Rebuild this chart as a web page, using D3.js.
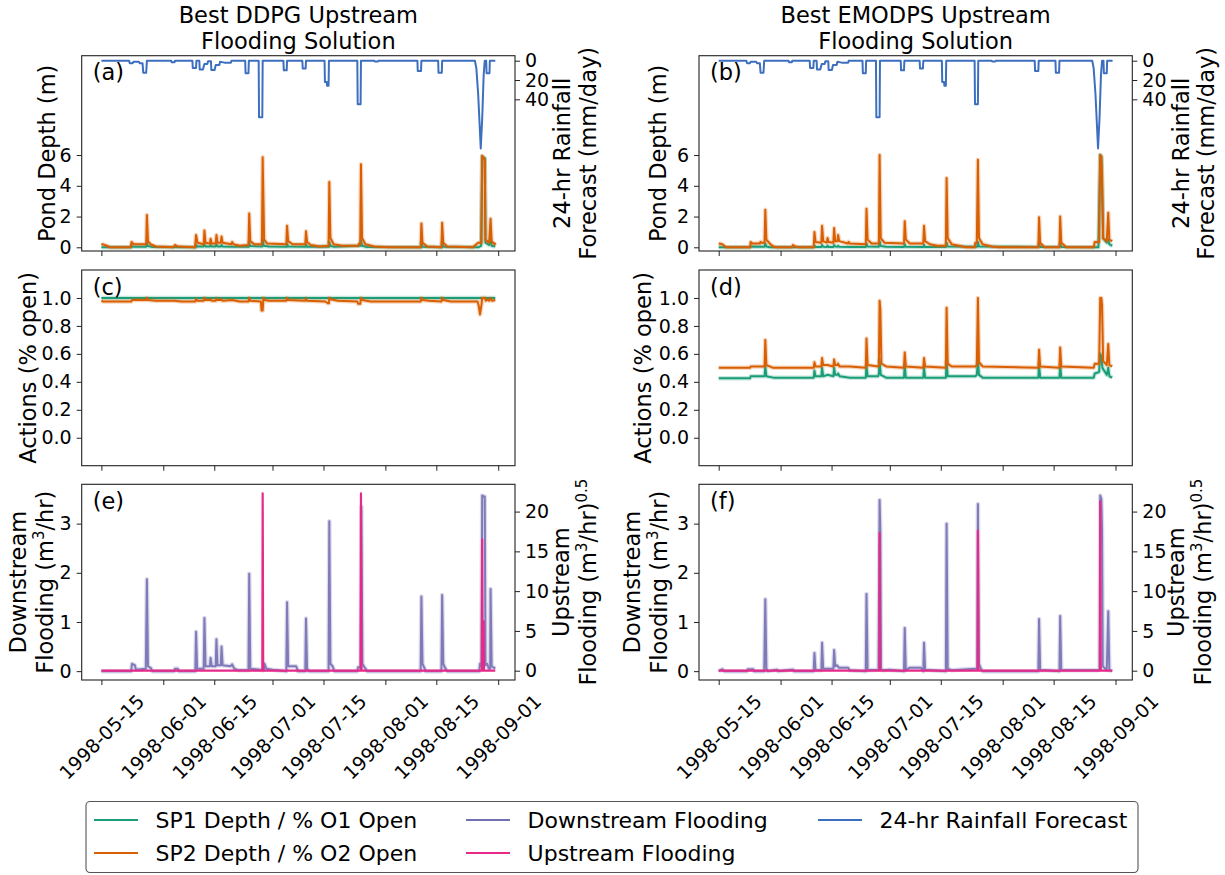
<!DOCTYPE html>
<html>
<head>
<script src="https://cdnjs.cloudflare.com/ajax/libs/d3/7.8.5/d3.min.js"></script>
<style>
  html, body { margin: 0; background: #fff; }
  text { font-family: "DejaVu Sans", sans-serif; }
</style>
</head>
<body>
<script>
// days counted from 1998-05-15 00:00 (UTC)
var startDate = "1998-05-15";
var xTickDates = ["1998-05-15","1998-06-01","1998-06-15","1998-07-01","1998-07-15","1998-08-01","1998-08-15","1998-09-01"];
var depthTicks = [0, 2, 4, 6];
var rainTicks = [0, 20, 40];
var actionTicks = [0, 0.2, 0.4, 0.6, 0.8, 1.0];
var downTicks = [0, 1, 2, 3];
var upTicks = [0, 5, 10, 15, 20];

// 24-hr rainfall forecast (mm/day), same in both columns
var rainForecast = [[0,0],[7.6,0],[7.8,2.5],[8.6,2.5],[8.8,1],[10.3,1],[10.5,2.5],[11.3,2.5],[11.5,12.5],[12.3,12.5],[12.5,0],
  [19.2,0],[19.3,1.5],[20.1,1.5],[20.2,0],[25,0],[25.1,7.5],[26,7.5],[26.1,0],[26.9,0],[27,9],[27.9,9],[28.3,3.5],[29.1,3.5],
  [29.3,0.5],[30.1,0.5],[30.2,9.7],[31.1,9.7],[31.4,4.5],[32.4,4.5],[32.6,1],[33.8,2],[35.6,2],[35.7,0],
  [39.5,0],[39.6,13],[40.4,13],[40.5,0],[43.2,0],[43.3,58.7],[44.2,58.7],[44.3,0],[50,0],[50.1,10],[50.9,10],[51,0],
  [55.2,0],[55.3,8],[56.1,8],[56.2,0],[61.3,0],[61.4,22],[61.9,22],[62,26],[62.4,26],[62.5,0],[70.3,0],[70.4,45],[71.2,45],[71.3,0],
  [75,0],[75.1,0.7],[76,0.7],[76.1,0],[86.8,0],[86.9,10.7],[87.8,10.7],[87.9,0],[92.5,0],[92.6,12.4],[93.5,12.4],[93.6,0],
  [102.6,0],[103,8],[103.5,35],[104.2,91],[104.6,60],[105,15],[105.3,0],[105.7,0],[105.8,13],[106.6,13],[106.7,0],[108.2,0]];

// pond depth (m)
var ddpgSP1Depth = [[0,0],[8.3,0],[8.4,0.08],[9,0.03],[12.3,0.03],[12.5,0.3],[12.8,0.08],[14,0.02],[25.9,0],[26,0.15],[26.4,0.05],
  [28.1,0.05],[28.3,0.2],[28.6,0.06],[29.8,0.05],[30,0.15],[30.3,0.05],[31.4,0.05],[31.6,0.2],[31.9,0.06],[32.8,0.05],[33,0.15],[33.3,0.05],
  [36,0.03],[40.5,0.03],[40.6,0.3],[40.9,0.08],[44.2,0.05],[44.3,0.5],[44.6,0.1],[46,0.05],[50.9,0.03],[51,0.25],[51.3,0.05],
  [56.1,0.03],[56.2,0.2],[56.5,0.04],[62.5,0.03],[62.6,0.35],[62.9,0.08],[64,0.03],[71.1,0.1],[71.3,0.45],[71.6,0.1],[73,0.02],
  [87.8,0],[87.9,0.3],[88.2,0.03],[93.5,0],[93.6,0.3],[93.9,0.03],[103.5,0],[104.3,0.1],[104.6,5.9],[105.3,5.8],[105.5,0.3],
  [106.5,0.15],[106.9,0.5],[107.2,0.1],[108.2,0.05]];
var ddpgSP2Depth = [[0,0.22],[1.5,0.1],[2.5,0],[8,0],[8.3,0.35],[8.8,0.2],[12.3,0.2],[12.5,2.1],[12.8,0.4],[13.5,0.2],[15,0.05],[19.8,0],
  [20.2,0.15],[21,0.05],[25.7,0],[26,0.8],[26.4,0.3],[28.1,0.2],[28.3,1.1],[28.6,0.3],[29.8,0.25],[30,0.55],[30.3,0.25],[31.4,0.25],
  [31.6,0.8],[31.9,0.3],[32.8,0.3],[33,0.7],[33.3,0.3],[35.7,0.2],[35.9,0.35],[36.3,0.2],[38,0.1],[40.4,0.15],[40.6,2.2],[40.9,0.4],
  [42,0.2],[44.1,0.2],[44.3,5.85],[44.7,0.5],[45.5,0.25],[50.8,0.2],[51,1.4],[51.3,0.4],[52.5,0.2],[56,0.2],[56.2,1.05],[56.5,0.35],
  [57.5,0.15],[60,0.05],[62.4,0.1],[62.6,4.25],[62.9,0.6],[63.8,0.2],[66,0.1],[70.5,0.1],[70.8,0.25],[71.1,0.2],[71.3,5.4],[71.6,0.6],
  [72.5,0.2],[75,0.05],[79,0],[87.7,0],[87.9,1.55],[88.2,0.3],[89.5,0.05],[93.4,0],[93.6,1.6],[93.9,0.3],[95,0.05],[102,0],[103.5,0.3],
  [104.4,0.3],[104.6,5.95],[105,5.8],[105.3,5.7],[105.5,0.5],[106.5,0.3],[106.9,1.85],[107.2,0.4],[108,0.2],[108.2,0.3]];
var emodpsSP1Depth = [[0,0],[8.6,0],[8.8,0.05],[12.6,0.03],[12.8,0.25],[13.1,0.05],[14,0],[26.1,0],[26.3,0.1],[26.6,0.02],[28.2,0.02],
  [28.4,0.15],[28.7,0.03],[29.7,0.02],[29.9,0.1],[30.2,0.02],[31.5,0.02],[31.7,0.15],[32,0.05],[32.6,0.04],[32.8,0.1],[33.1,0.03],
  [36,0.02],[40.4,0.02],[40.6,0.25],[40.9,0.05],[44,0.04],[44.2,0.4],[44.5,0.08],[46,0.03],[50.9,0.02],[51.1,0.2],[51.4,0.03],
  [56.2,0.02],[56.4,0.15],[56.7,0.02],[62.4,0.02],[62.6,0.3],[62.9,0.05],[71,0.04],[71.2,0.35],[71.5,0.05],[87.8,0.02],[88,0.25],
  [88.3,0.02],[93.6,0.02],[93.8,0.25],[94.1,0.02],[104.3,0],[104.8,6],[105.1,5.9],[105.3,4],[105.6,0.6],[106.6,0.3],[107,0.5],
  [107.3,0.2],[108.1,0.1]];
var emodpsSP2Depth = [[0,0.25],[1,0.2],[2,0],[8.6,0],[8.8,0.35],[9.2,0.25],[11.3,0.25],[11.5,0.35],[11.8,0.3],[12.6,0.3],[12.8,2.45],
  [13.1,0.5],[14,0.25],[15,0.05],[16,0],[20.2,0],[20.4,0.15],[21,0.05],[22,0],[26.1,0],[26.3,1],[26.6,0.35],[28.2,0.3],[28.4,1.4],
  [28.7,0.4],[29.7,0.3],[29.9,0.6],[30.2,0.35],[31.5,0.3],[31.7,1.25],[32,0.4],[32.6,0.4],[32.8,0.8],[33.1,0.4],[35.5,0.25],[35.7,0.35],
  [36,0.25],[40.4,0.2],[40.6,2.5],[40.9,0.5],[42,0.25],[44,0.25],[44.2,6],[44.5,0.6],[45.5,0.3],[50.9,0.25],[51.1,1.7],[51.4,0.5],
  [52.5,0.25],[56.2,0.25],[56.4,1.4],[56.7,0.4],[58,0.2],[60,0.1],[62.4,0.1],[62.6,4.5],[62.9,0.6],[64,0.2],[66,0.1],[68,0],[70.3,0],
  [70.5,0.3],[70.9,0.3],[71.2,5.7],[71.5,0.6],[72.5,0.2],[75,0.05],[77,0],[87.8,0],[88,1.95],[88.3,0.3],[89.5,0],[93.6,0],[93.8,2],
  [94.1,0.3],[95.5,0],[103,0],[103.3,0.35],[104.5,0.35],[104.8,6],[105.1,5.9],[105.3,4.7],[105.6,0.6],[106.6,0.4],[107,2.25],
  [107.3,0.5],[108.1,0.4]];

// actions (fraction open)
var ddpgO1Open = [[0,1],[108.2,1]];
var ddpgO2Open = [[0,0.98],[0.5,0.975],[8.2,0.975],[8.4,0.985],[12.3,0.985],[12.5,1],[12.8,0.985],[15,0.98],[20,0.98],[22,0.975],
  [25.8,0.975],[26,0.99],[26.4,0.98],[28.1,0.98],[28.3,1],[28.6,0.985],[29.8,0.985],[30,0.99],[30.3,0.98],[31.4,0.98],[31.6,0.995],
  [31.9,0.985],[32.8,0.985],[33,0.99],[33.3,0.98],[35.9,0.985],[38,0.975],[40.4,0.975],[40.6,1],[40.9,0.98],[43.8,0.975],[44,0.91],
  [44.3,0.91],[44.5,1],[44.8,0.985],[46,0.98],[50.8,0.98],[51,1],[51.3,0.985],[56,0.98],[56.2,0.995],[56.5,0.98],[61.5,0.975],
  [62.2,0.962],[62.5,0.962],[62.6,1],[62.9,0.99],[65,0.98],[70.3,0.975],[70.5,0.958],[71.1,0.958],[71.3,1],[71.6,0.985],[74,0.975],
  [87.7,0.975],[87.9,1],[88.2,0.985],[90,0.98],[93.4,0.975],[93.6,1],[93.9,0.985],[96,0.975],[103.3,0.975],[103.6,0.95],[104,0.882],
  [104.4,0.95],[104.6,1],[105.3,1],[105.6,0.98],[106,0.99],[106.5,0.98],[106.9,0.995],[107.3,0.98],[108.2,0.985]];
var emodpsO1Open = [[0,0.425],[8.6,0.425],[8.8,0.44],[12.6,0.44],[12.8,0.51],[13.1,0.44],[15,0.43],[26.1,0.43],[26.3,0.48],[26.6,0.44],
  [28.2,0.44],[28.4,0.5],[28.7,0.44],[29.9,0.45],[31.5,0.44],[31.7,0.5],[32,0.45],[32.6,0.45],[32.8,0.46],[33.2,0.44],[36,0.43],
  [40.4,0.43],[40.6,0.52],[40.9,0.44],[43.8,0.44],[44,0.46],[44.2,0.56],[44.5,0.45],[46,0.43],[50.9,0.43],[51.1,0.52],[51.4,0.43],
  [56.2,0.43],[56.4,0.5],[56.7,0.43],[62.4,0.43],[62.6,0.55],[62.9,0.44],[70.5,0.44],[70.9,0.45],[71.2,0.55],[71.5,0.45],[72.5,0.43],
  [87.8,0.43],[88,0.52],[88.3,0.43],[93.6,0.43],[93.8,0.52],[94.1,0.43],[103,0.43],[103.3,0.46],[104.5,0.47],[104.8,0.6],[105.1,0.58],
  [105.4,0.5],[106.6,0.45],[107,0.5],[107.3,0.44],[108.1,0.43]];
var emodpsO2Open = [[0,0.5],[8.6,0.5],[8.8,0.51],[12.6,0.51],[12.8,0.7],[13.1,0.52],[15,0.5],[26.1,0.5],[26.3,0.54],[26.6,0.51],
  [28.2,0.51],[28.4,0.57],[28.7,0.52],[29.9,0.52],[31.5,0.51],[31.7,0.56],[32,0.52],[32.6,0.52],[32.8,0.53],[33.2,0.51],[36,0.51],
  [40.4,0.5],[40.6,0.71],[40.9,0.52],[43.8,0.51],[44,0.52],[44.2,0.98],[44.4,0.92],[44.7,0.53],[46,0.51],[50.9,0.5],[51.1,0.61],
  [51.4,0.51],[56.2,0.5],[56.4,0.57],[56.7,0.51],[62.4,0.5],[62.6,0.93],[62.9,0.53],[64,0.51],[70.5,0.51],[70.9,0.52],[71.2,1],
  [71.5,0.54],[72.5,0.51],[87.8,0.5],[88,0.63],[88.3,0.51],[93.6,0.5],[93.8,0.645],[94.1,0.51],[103,0.5],[103.3,0.53],[104.5,0.53],
  [104.8,1],[105.1,1],[105.3,0.95],[105.6,0.55],[106.6,0.52],[107,0.67],[107.3,0.52],[108.1,0.51]];

// flooding: downstream (m3/hr), upstream ((m3/hr)^0.5)
var ddpgDownstream = [[0,0],[8.2,0],[8.4,0.15],[9.2,0.12],[9.5,0.03],[12.2,0.05],[12.5,1.87],[12.8,0.1],[13.6,0.06],[14,0],[20,0],
  [20.2,0.05],[21,0.05],[21.2,0],[25.8,0],[26,0.8],[26.3,0.05],[28.1,0.05],[28.3,1.08],[28.6,0.1],[29.8,0.1],[30,0.27],[30.3,0.1],
  [31.4,0.1],[31.6,0.65],[31.9,0.12],[32.8,0.12],[33,0.5],[33.3,0.12],[35.5,0.1],[35.9,0.14],[36.5,0.05],[37.5,0.02],[40.4,0.02],
  [40.6,1.98],[40.9,0.05],[44.6,0.02],[44.8,0.15],[45.3,0.05],[47,0.03],[50.8,0],[51,1.4],[51.3,0.1],[53.5,0.1],[54,0],[56,0],
  [56.2,1.07],[56.5,0.05],[57,0],[62.4,0],[62.6,3.05],[62.9,0.15],[63.5,0.1],[64,0],[70.3,0],[70.5,0.08],[71.2,0.08],[71.4,3.35],
  [71.7,0.15],[72.5,0.05],[73,0],[87.7,0],[87.9,1.52],[88.2,0.15],[88.8,0.05],[89,0],[93.4,0],[93.6,1.55],[93.9,0.15],[94.5,0.05],
  [95,0],[103.8,0],[104,0.15],[104.4,0.1],[104.6,3.57],[105.3,3.55],[105.5,0.12],[106,0.15],[106.4,0.05],[106.8,0.05],[106.9,1.67],
  [107.2,0.1],[108.2,0.05]];
var ddpgUpstream = [[0,0],[44.2,0],[44.3,22.3],[44.45,0],[71.2,0],[71.3,22.3],[71.45,0],[104.5,0],[104.6,16.5],[104.72,0],[104.9,0],
  [105,6.2],[105.1,0],[108.2,0]];
var emodpsDownstream = [[0,0],[1,0.04],[1.5,0],[7.8,0],[8,0.04],[9.5,0.04],[9.7,0],[12.5,0],[12.8,1.46],[13.1,0.05],[13.5,0],[16,0.03],
  [16.3,0],[20,0.03],[20.5,0.03],[20.7,0],[26.1,0],[26.3,0.37],[26.6,0.02],[28.2,0.02],[28.4,0.58],[28.7,0.05],[29.9,0.05],[31.5,0.05],
  [31.7,0.43],[32,0.1],[32.5,0.12],[33,0.07],[35.5,0.07],[36,0.02],[40.4,0],[40.6,1.57],[40.9,0.02],[43.9,0.03],[44.2,3.48],[44.4,2.85],
  [44.6,0.05],[45,0.02],[47,0.03],[50.9,0],[51.1,0.88],[51.4,0.02],[52.5,0.07],[55.5,0.07],[56.2,0],[56.4,0.58],[56.7,0.03],[62.4,0],
  [62.6,3],[62.9,0.05],[64,0.02],[70.5,0.05],[71,0.05],[71.2,3.4],[71.5,0.15],[72,0.05],[72.5,0],[87.8,0],[88,1.06],[88.3,0.02],
  [90,0.02],[93.6,0],[93.8,1.12],[94.1,0.02],[95,0.02],[104.3,0.02],[104.6,0.04],[104.8,3.57],[105.1,3.5],[105.3,2.9],[105.5,0.1],
  [106.6,0.02],[107,1.22],[107.3,0.02],[108.1,0]];
var emodpsUpstream = [[0,0],[44.15,0],[44.2,17.3],[44.35,0],[71.15,0],[71.2,17.6],[71.35,0],[104.75,0],[104.8,21.3],[104.95,0],[108.1,0]];

var colSP1 = "#1b9e77", colSP2 = "#d95f02", colDown = "#7570b3", colUp = "#e7298a", colRain = "#3d6fc0";

var svg = d3.select("body").append("svg").attr("width", 1225).attr("height", 875);

var t0 = d3.utcParse("%Y-%m-%d")(startDate).getTime();
function toDate(t) { return new Date(t0 + t * 864e5); }
var parseDay = d3.utcParse("%Y-%m-%d");

var cols = [{x0: 81.7, x1: 515, title: "Best DDPG Upstream"}, {x0: 699, x1: 1132.3, title: "Best EMODPS Upstream"}];
var rows = [{y0: 55.7, y1: 251}, {y0: 270, y1: 465.7}, {y0: 484.3, y1: 680}];
var clipId = 0;

function vLabel(xc, yc, parts) {
    var t = svg.append("text")
        .attr("transform", "translate(" + xc + "," + yc + ") rotate(-90)")
        .attr("text-anchor", "middle").attr("dy", "0.36em")
        .style("font-size", "22.5px").attr("fill", "#000");
    parts.forEach(function(p) {
        if (p[1] === "sup") {
            t.append("tspan").attr("dy", -9).style("font-size", "15px").text(p[0]);
        } else if (p[1] === "down") {
            t.append("tspan").attr("dy", 9).text(p[0]);
        } else {
            t.append("tspan").text(p[0]);
        }
    });
}

function makePanel(c, r, letter, leftDomain, leftTicks, leftFmt, series, right, showDates) {
    var col = cols[c], row = rows[r];
    var x = d3.scaleUtc().domain([toDate(-5.41), toDate(113.61)]).range([col.x0, col.x1]);
    var y = d3.scaleLinear().domain(leftDomain).range([row.y1, row.y0]);
    var g = svg.append("g");
    var id = "clip" + (clipId++);
    g.append("clipPath").attr("id", id).append("rect")
        .attr("x", col.x0).attr("y", row.y0).attr("width", col.x1 - col.x0).attr("height", row.y1 - row.y0);
    var plot = g.append("g").attr("clip-path", "url(#" + id + ")");

    var yr = null;
    if (right) {
        yr = d3.scaleLinear().domain(right.domain).range(right.invert ? [row.y0, row.y1] : [row.y1, row.y0]);
    }
    series.forEach(function(s) {
        var ys = s.right ? yr : y;
        var line = d3.line().x(function(d) { return x(toDate(d[0])); }).y(function(d) { return ys(d[1]); });
        if (s.halo) {
            plot.append("path").datum(s.data).attr("d", line).attr("fill", "none")
                .attr("stroke", s.color).attr("stroke-opacity", 0.25).attr("stroke-width", 4.5)
                .attr("stroke-linejoin", "round");
        }
        plot.append("path").datum(s.data).attr("d", line).attr("fill", "none")
            .attr("stroke", s.color).attr("stroke-width", s.width || 2).attr("stroke-opacity", s.opacity || 1)
            .attr("stroke-linejoin", "round");
    });

    // left axis
    var ax = g.append("g").attr("transform", "translate(" + col.x0 + ",0)")
        .call(d3.axisLeft(y).tickValues(leftTicks).tickFormat(leftFmt).tickSize(5).tickPadding(5));
    if (right) {
        g.append("g").attr("transform", "translate(" + col.x1 + ",0)")
            .call(d3.axisRight(yr).tickValues(right.ticks).tickFormat(d3.format("d")).tickSize(5).tickPadding(5));
    }
    var bx = g.append("g").attr("transform", "translate(0," + row.y1 + ")")
        .call(d3.axisBottom(x).tickValues(xTickDates.map(parseDay)).tickSize(5)
            .tickFormat(showDates ? d3.utcFormat("%Y-%m-%d") : ""));
    g.selectAll(".domain").remove();
    g.selectAll(".tick line").attr("stroke", "#222").attr("stroke-width", 1);
    g.selectAll(".tick text").style("font-size", "19px").style("font-family", "DejaVu Sans").attr("fill", "#000");
    if (showDates) {
        bx.selectAll(".tick text")
            .attr("y", 0).attr("dy", "0.35em").attr("text-anchor", "middle")
            .attr("transform", "translate(0,57) rotate(-45)");
    }
    g.append("rect").attr("x", col.x0).attr("y", row.y0)
        .attr("width", col.x1 - col.x0).attr("height", row.y1 - row.y0)
        .attr("fill", "none").attr("stroke", "#222").attr("stroke-width", 1.1);
    g.append("text").attr("x", col.x0 + 11).attr("y", row.y0 + 24.5)
        .style("font-size", "22.5px").attr("fill", "#000").text("(" + letter + ")");
}

var fmtInt = d3.format("d"), fmt1 = d3.format(".1f");

// row 1: pond depth + rainfall
makePanel(0, 0, "a", [-0.24, 12.46], depthTicks, fmtInt,
    [{data: rainForecast, color: colRain, right: true},
     {data: ddpgSP1Depth, color: colSP1, halo: true},
     {data: ddpgSP2Depth, color: colSP2, halo: true}],
    {domain: [-5.2, 197.2], ticks: rainTicks, invert: true}, false);
makePanel(1, 0, "b", [-0.24, 12.46], depthTicks, fmtInt,
    [{data: rainForecast, color: colRain, right: true},
     {data: emodpsSP1Depth, color: colSP1, halo: true},
     {data: emodpsSP2Depth, color: colSP2, halo: true}],
    {domain: [-5.2, 197.2], ticks: rainTicks, invert: true}, false);
// row 2: actions
makePanel(0, 1, "c", [-0.2, 1.2], actionTicks, fmt1,
    [{data: ddpgO1Open, color: colSP1, halo: true},
     {data: ddpgO2Open, color: colSP2, halo: true}], null, false);
makePanel(1, 1, "d", [-0.2, 1.2], actionTicks, fmt1,
    [{data: emodpsO1Open, color: colSP1, halo: true},
     {data: emodpsO2Open, color: colSP2, halo: true}], null, false);
// row 3: flooding
makePanel(0, 2, "e", [-0.18, 3.8], downTicks, fmtInt,
    [{data: ddpgDownstream, color: colDown, halo: true, opacity: 0.9},
     {data: ddpgUpstream, color: colUp, right: true, width: 2.2}],
    {domain: [-1.17, 23.43], ticks: upTicks, invert: false}, true);
makePanel(1, 2, "f", [-0.18, 3.8], downTicks, fmtInt,
    [{data: emodpsDownstream, color: colDown, halo: true, opacity: 0.9},
     {data: emodpsUpstream, color: colUp, right: true, width: 2.2}],
    {domain: [-1.17, 23.43], ticks: upTicks, invert: false}, true);

// column titles
cols.forEach(function(col) {
    var cx = (col.x0 + col.x1) / 2;
    var t = svg.append("text").attr("text-anchor", "middle").style("font-size", "22.5px").attr("fill", "#000");
    t.append("tspan").attr("x", cx).attr("y", 23).text(col.title);
    t.append("tspan").attr("x", cx).attr("y", 48.5).text("Flooding Solution");
});

// axis labels
var rc = function(r) { return (rows[r].y0 + rows[r].y1) / 2; };
vLabel(47, rc(0), [["Pond Depth (m)"]]);
vLabel(658, rc(0), [["Pond Depth (m)"]]);
vLabel(562, rc(0), [["24-hr Rainfall"]]);
vLabel(588, rc(0), [["Forecast (mm/day)"]]);
vLabel(1181, rc(0), [["24-hr Rainfall"]]);
vLabel(1206, rc(0), [["Forecast (mm/day)"]]);
vLabel(28, rc(1), [["Actions (% open)"]]);
vLabel(643, rc(1), [["Actions (% open)"]]);
[[18, 45, 561, 588], [632, 659, 1176, 1203]].forEach(function(p) {
    vLabel(p[0], rc(2), [["Downstream"]]);
    vLabel(p[1], rc(2), [["Flooding (m"], ["3", "sup"], ["/hr)", "down"]]);
    vLabel(p[2], rc(2), [["Upstream"]]);
    vLabel(p[3], rc(2), [["Flooding (m"], ["3", "sup"], ["/hr)", "down"], ["0.5", "sup"]]);
});

// legend
var legendItems = [
    {label: "SP1 Depth / % O1 Open", color: colSP1, lx: 94, ly: 820},
    {label: "SP2 Depth / % O2 Open", color: colSP2, lx: 94, ly: 853},
    {label: "Downstream Flooding", color: colDown, lx: 466, ly: 820},
    {label: "Upstream Flooding", color: colUp, lx: 466, ly: 853},
    {label: "24-hr Rainfall Forecast", color: colRain, lx: 818, ly: 820}
];
svg.append("rect").attr("x", 86).attr("y", 801.5).attr("width", 1052).attr("height", 71)
    .attr("rx", 4).attr("fill", "#fff").attr("stroke", "#555").attr("stroke-width", 1.1);
var lg = svg.selectAll(".leg").data(legendItems).enter().append("g").attr("class", "leg");
lg.append("line").attr("x1", function(d) { return d.lx; }).attr("x2", function(d) { return d.lx + 44; })
    .attr("y1", function(d) { return d.ly; }).attr("y2", function(d) { return d.ly; })
    .attr("stroke", function(d) { return d.color; }).attr("stroke-width", 2);
lg.append("text").attr("x", function(d) { return d.lx + 61.6; }).attr("y", function(d) { return d.ly; })
    .attr("dy", "0.36em").style("font-size", "22px").attr("fill", "#000")
    .text(function(d) { return d.label; });
</script>
</body>
</html>
